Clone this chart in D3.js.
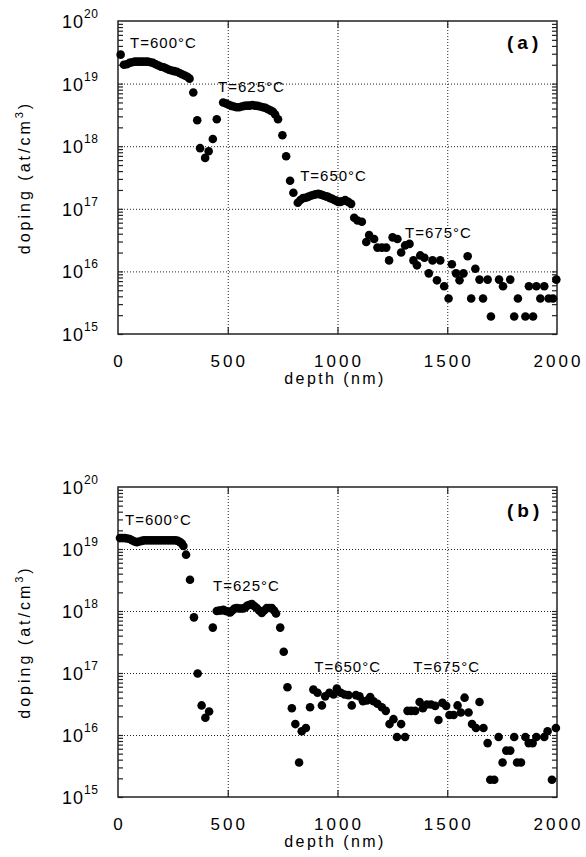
<!DOCTYPE html>
<html>
<head>
<meta charset="utf-8">
<script src="https://cdn.jsdelivr.net/npm/d3@7"></script>
<style>
    body { margin: 0; background: #fff; }
    svg { font-family: "Liberation Sans", Arial, sans-serif; }
    .grid line { stroke: #222; stroke-width: 1; stroke-dasharray: 1,2; }
    .grid path { display: none; }
    .ticks line { stroke: #222; stroke-width: 1.2; }
    .ticks path { display: none; }
</style>
</head>
<body>
<svg id="chart" width="586" height="857"></svg>
<script>
// panel (a): depth (nm) and doping (at/cm3)
const depthA = [12, 27, 40, 52, 64, 76, 88, 100, 112, 124, 136, 148, 160, 172, 184, 196, 208, 220, 232, 244, 256, 268, 280, 292, 304, 316, 326,
    343, 361, 374, 397, 413, 432, 450,
    479, 492, 504, 516, 528, 540, 552, 564, 576, 588, 600, 612, 624, 636, 648, 660, 672, 684, 696, 706, 716, 729,
    749, 766, 784, 799, 819,
    831, 843, 855, 866, 878, 889, 900, 912, 921, 930, 939, 948, 957, 967, 976, 985, 994, 1003, 1012, 1021, 1035, 1049, 1062,
    1076, 1091, 1111, 1131, 1144, 1167, 1182, 1202, 1222, 1235, 1251, 1273, 1290, 1308, 1328, 1346, 1362, 1377, 1396, 1416,
    1433, 1453, 1468, 1486, 1506, 1521, 1540, 1556, 1574, 1593, 1609, 1628, 1647, 1663, 1684, 1699, 1736, 1754, 1787, 1805,
    1822, 1856, 1872, 1891, 1906, 1924, 1942, 1962, 1982, 1997];
const dopingA = [2.9e19, 2.0e19, 2.04e19, 2.14e19, 2.19e19, 2.24e19, 2.24e19, 2.24e19, 2.24e19, 2.24e19, 2.24e19, 2.19e19, 2.14e19, 2.04e19, 1.95e19, 1.86e19, 1.82e19, 1.74e19, 1.66e19, 1.62e19, 1.58e19, 1.55e19, 1.48e19, 1.41e19, 1.35e19, 1.29e19, 1.2e19,
    7.2e18, 2.6e18, 9.3e17, 6.5e17, 8.3e17, 1.3e18, 2.7e18,
    5.0e18, 4.8e18, 4.6e18, 4.4e18, 4.3e18, 4.2e18, 4.2e18, 4.3e18, 4.4e18, 4.45e18, 4.45e18, 4.55e18, 4.45e18, 4.4e18, 4.3e18, 4.2e18, 4.1e18, 3.9e18, 3.7e18, 3.55e18, 3.2e18, 2.7e18,
    1.5e18, 6.9e17, 2.8e17, 1.8e17, 1.25e17,
    1.38e17, 1.48e17, 1.5e17, 1.55e17, 1.62e17, 1.66e17, 1.7e17, 1.74e17, 1.7e17, 1.66e17, 1.62e17, 1.58e17, 1.55e17, 1.48e17, 1.45e17, 1.38e17, 1.35e17, 1.29e17, 1.29e17, 1.32e17, 1.38e17, 1.29e17, 1.2e17,
    7.2e16, 6.5e16, 6.2e16, 2.95e16, 3.8e16, 3.3e16, 2.4e16, 2.4e16, 2.4e16, 1.5e16, 3.5e16, 3.3e16, 2.0e16, 2.6e16, 2.75e16, 1.5e16, 1.25e16, 1.8e16, 1.65e16, 9.3e15,
    1.5e16, 7.2e15, 1.5e16, 5.8e15, 3.7e15, 1.3e16, 9.3e15, 7.2e15, 9.3e15, 1.75e16, 3.7e15, 1.1e16, 7.4e15, 3.7e15, 7.4e15, 1.9e15, 7.4e15, 5.8e15, 7.4e15, 1.9e15,
    3.7e15, 1.9e15, 5.8e15, 1.9e15, 5.8e15, 3.7e15, 5.8e15, 3.7e15, 3.7e15, 7.4e15];

// panel (b)
const depthB = [9, 20, 31, 42, 53, 64, 75, 86, 97, 108, 119, 130, 141, 152, 163, 174, 185, 196, 207, 218, 229, 240, 251, 262, 273, 283, 291, 298,
    310, 328, 346, 363, 381, 398, 415, 432,
    450, 461, 470, 480, 490, 500, 511, 521, 531, 541, 551, 561, 571, 581, 590, 600, 610, 621, 632, 643, 655, 666, 678, 690, 701, 711, 720,
    739, 755, 772, 792, 808, 825, 837, 856, 875, 890, 909, 929, 944, 963, 982, 997, 1015, 1032, 1050, 1065, 1084, 1100, 1116, 1134,
    1149, 1164, 1182, 1202, 1220, 1237, 1255, 1271, 1290, 1308, 1319, 1336, 1354, 1374, 1389, 1407, 1426, 1445, 1460, 1478, 1495,
    1510, 1529, 1547, 1562, 1579, 1597, 1613, 1631, 1647, 1665, 1684, 1696, 1714, 1734, 1752, 1769, 1787, 1805, 1818, 1836, 1856,
    1871, 1889, 1906, 1942, 1957, 1977, 1995];
const dopingB = [1.5e19, 1.5e19, 1.5e19, 1.48e19, 1.45e19, 1.38e19, 1.32e19, 1.29e19, 1.32e19, 1.35e19, 1.38e19, 1.38e19, 1.38e19, 1.38e19, 1.38e19, 1.38e19, 1.38e19, 1.38e19, 1.38e19, 1.38e19, 1.38e19, 1.38e19, 1.38e19, 1.38e19, 1.35e19, 1.29e19, 1.23e19, 1.12e19,
    8.1e18, 3.2e18, 7.9e17, 9.8e16, 3.0e16, 1.9e16, 2.4e16, 5.4e17,
    1.0e18, 1.02e18, 1.02e18, 1.05e18, 1.0e18, 9.8e17, 9.5e17, 1.02e18, 1.1e18, 1.12e18, 1.1e18, 1.1e18, 1.1e18, 1.15e18, 1.23e18, 1.26e18, 1.29e18, 1.2e18, 1.12e18, 1.02e18, 9.3e17, 1.02e18, 1.12e18, 1.12e18, 1.12e18, 1.02e18, 9.1e17,
    5.4e17, 2.2e17, 5.9e16, 2.7e16, 1.5e16, 3.6e15, 1.15e16, 1.3e16, 2.8e16, 5.4e16, 4.8e16, 3.0e16, 4.2e16, 4.8e16, 4.5e16, 5.6e16, 4.8e16, 4.5e16, 4.4e16, 3.0e16, 4.4e16, 4.2e16, 3.5e16, 3.6e16,
    4.1e16, 3.5e16, 3.2e16, 2.8e16, 2.45e16, 1.5e16, 1.8e16, 9.3e15, 1.5e16, 9.3e15, 2.45e16, 2.45e16, 2.45e16, 3.4e16, 2.7e16, 3.1e16, 3.1e16, 2.95e16, 1.75e16, 3.3e16, 2.95e16,
    2.1e16, 2.1e16, 3.0e16, 2.3e16, 4.0e16, 2.3e16, 1.5e16, 1.3e16, 3.4e16, 1.3e16, 7.4e15, 1.9e15, 1.9e15, 9.3e15, 3.6e15, 5.6e15, 5.6e15, 9.3e15, 3.6e15, 3.6e15, 9.3e15,
    7.4e15, 7.4e15, 9.3e15, 9.3e15, 1.15e16, 1.9e15, 1.3e16];

const xTickValues = [0, 500, 1000, 1500, 2000];
const xGridValues = [500, 1000, 1500];
const yDecades = [15, 16, 17, 18, 19, 20];
const tempLabels = ["T=600°C", "T=625°C", "T=650°C", "T=675°C"];
// label anchors in data units: [depth, log10 doping]
const labelPosA = [[55, 19.57], [456, 18.87], [830, 17.44], [1308, 16.53]];
const labelPosB = [[32, 19.38], [433, 18.33], [894, 17.01], [1345, 17.01]];

const svg = d3.select("#chart");

function drawPanel(opts) {
    const left = 118, right = 557;
    const x = d3.scaleLinear().domain([0, 2000]).range([left, right]);
    const y = d3.scaleLog().domain([1e15, 1e20]).range([opts.bottom, opts.top]);
    const g = svg.append("g");

    // grid
    g.append("g").attr("class", "grid")
        .attr("transform", `translate(${left},0)`)
        .call(d3.axisLeft(y).tickValues(yDecades.slice(1, -1).map(d => Math.pow(10, d)))
            .tickSize(-(right - left)).tickFormat(""));
    g.append("g").attr("class", "grid")
        .attr("transform", `translate(0,${opts.bottom})`)
        .call(d3.axisBottom(x).tickValues(xGridValues).tickSize(-(opts.bottom - opts.top)).tickFormat(""));

    // minor log ticks on left and right
    const minors = [];
    for (let e = 15; e < 20; e++) for (let m = 1; m < 10; m++) minors.push(m * Math.pow(10, e));
    g.append("g").attr("class", "ticks")
        .attr("transform", `translate(${left},0)`)
        .call(d3.axisLeft(y).tickValues(minors).tickSize(-5).tickFormat(""));
    g.append("g").attr("class", "ticks")
        .attr("transform", `translate(${right},0)`)
        .call(d3.axisRight(y).tickValues(minors).tickSize(-5).tickFormat(""));
    g.append("g").attr("class", "ticks")
        .attr("transform", `translate(0,${opts.top})`)
        .call(d3.axisTop(x).tickValues(xGridValues).tickSize(-7).tickFormat(""));
    g.append("g").attr("class", "ticks")
        .attr("transform", `translate(0,${opts.bottom})`)
        .call(d3.axisBottom(x).tickValues(xGridValues).tickSize(-7).tickFormat(""));

    // frame
    g.append("rect")
        .attr("x", left).attr("y", opts.top)
        .attr("width", right - left).attr("height", opts.bottom - opts.top)
        .attr("fill", "none").attr("stroke", "#222").attr("stroke-width", 1.5);

    // y tick labels 10^n
    const yl = g.selectAll(".ylab").data(yDecades).enter()
        .append("text")
        .attr("x", 62)
        .attr("y", d => y(Math.pow(10, d)) + 7)
        .attr("font-size", 18)
        .attr("letter-spacing", 1)
        .text("10");
    yl.append("tspan").attr("font-size", 12).attr("dy", -10).attr("letter-spacing", 0.5).text(d => d);

    // x tick labels
    g.selectAll(".xlab").data(xTickValues).enter()
        .append("text")
        .attr("x", d => x(d) + 1.5)
        .attr("y", opts.bottom + 33)
        .attr("text-anchor", "middle")
        .attr("font-size", 17)
        .attr("letter-spacing", 3)
        .text(d => d);

    // axis titles
    g.append("text")
        .attr("x", 335).attr("y", opts.bottom + 50)
        .attr("text-anchor", "middle")
        .attr("font-size", 16)
        .attr("letter-spacing", 2.4)
        .text("depth  (nm)");

    const yt = g.append("text")
        .attr("transform", `translate(29.5,${(opts.top + opts.bottom) / 2}) rotate(-90)`)
        .attr("text-anchor", "middle")
        .attr("font-size", 16)
        .attr("letter-spacing", 3);
    yt.append("tspan").text("doping  (at/cm");
    yt.append("tspan").attr("font-size", 11).attr("dy", -7).text("3");
    yt.append("tspan").attr("dy", 7).text(")");

    // data
    g.selectAll(".dot").data(opts.depth).enter()
        .append("circle")
        .attr("cx", d => x(d))
        .attr("cy", (d, i) => y(opts.doping[i]))
        .attr("r", 4.3)
        .attr("fill", "#000");

    // temperature labels
    g.selectAll(".tlab").data(tempLabels).enter()
        .append("text")
        .attr("x", (d, i) => x(opts.labelPos[i][0]))
        .attr("y", (d, i) => y(Math.pow(10, opts.labelPos[i][1])))
        .attr("font-size", 15)
        .attr("letter-spacing", 1)
        .text(d => d);

    // panel letter
    g.append("text")
        .attr("x", 507).attr("y", opts.letterY)
        .attr("font-size", 19)
        .attr("font-weight", "bold")
        .attr("letter-spacing", 4)
        .text(opts.letter);
}

drawPanel({ top: 21, bottom: 334, depth: depthA, doping: dopingA, labelPos: labelPosA, letter: "(a)", letterY: 49 });
drawPanel({ top: 487, bottom: 797, depth: depthB, doping: dopingB, labelPos: labelPosB, letter: "(b)", letterY: 517 });
</script>
</body>
</html>
